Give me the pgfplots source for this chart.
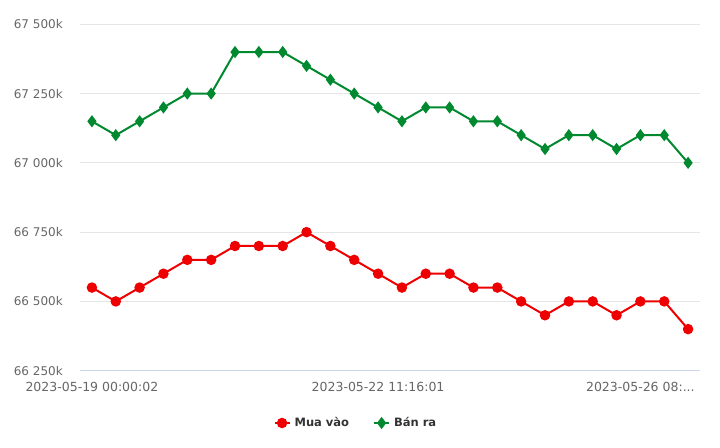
\documentclass[border=0pt]{standalone}
\usepackage{pgfplots}
\pgfplotsset{compat=1.18}
\usepackage{fontspec}
\setmainfont{DejaVu Sans}
\definecolor{cred}{RGB}{238,0,0}
\definecolor{cgreen}{RGB}{0,137,46}
\definecolor{gridc}{RGB}{230,230,230}
\definecolor{axc}{RGB}{204,214,235}
\definecolor{labc}{RGB}{102,102,102}
\definecolor{legc}{RGB}{51,51,51}
\newcommand{\dotsx}{.{}.{}.}
\begin{document}
\begin{tikzpicture}
\useasboundingbox (0,0) rectangle (720bp,448bp);
\begin{axis}[
  at={(80bp,77.3bp)}, anchor=south west,
  scale only axis, width=620bp, height=346.4bp,
  xmin=-0.5, xmax=25.5, ymin=66250, ymax=67500,
  scaled y ticks=false,
  axis line style={draw=none},
  major tick length=0pt,
  ytick={66250,66500,66750,67000,67250,67500},
  yticklabels={66 250k,66 500k,66 750k,67 000k,67 250k,67 500k},
  xtick={0,12,23},
  xticklabels={2023-05-19 00:00:02,2023-05-22 11:16:01,2023-05-26 08:\dotsx},
  ymajorgrids, major grid style={gridc, line width=1bp},
  yticklabel style={font=\fontsize{12bp}{14bp}\selectfont, text=labc, inner sep=0pt, anchor=east, xshift=-17bp},
  xticklabel style={font=\fontsize{12.5bp}{14bp}\selectfont, text=labc, inner sep=0pt, anchor=north, yshift=-11bp},
  legend style={at={(0.445,-0.151)}, anchor=center, draw=none, fill=none,
    font=\fontsize{11.5bp}{14bp}\selectfont\bfseries, text=legc,
    /tikz/every even column/.append style={column sep=22bp}},
  legend columns=2,
  legend image code/.code={\draw[mark repeat=2,mark phase=2,#1] plot coordinates {(0bp,0bp)(7.5bp,0bp)(15bp,0bp)};},
  clip=false,
]
\draw[axc, line width=1bp] (axis cs:-0.5,66250) -- (axis cs:25.5,66250);
\addplot[cred, line width=2bp, mark=*, mark size=4.2bp, mark options={solid, fill=cred, draw=none}] coordinates {
(0,66550)(1,66500)(2,66550)(3,66600)(4,66650)(5,66650)(6,66700)(7,66700)(8,66700)(9,66750)(10,66700)(11,66650)(12,66600)(13,66550)(14,66600)(15,66600)(16,66550)(17,66550)(18,66500)(19,66450)(20,66500)(21,66500)(22,66450)(23,66500)(24,66500)(25,66400)};
\addlegendentry{\hspace{2bp}Mua vào}
\addplot[cgreen, line width=2bp, mark=diamond*, mark size=4.5bp, mark options={solid, fill=cgreen, draw=none}] coordinates {
(0,67150)(1,67100)(2,67150)(3,67200)(4,67250)(5,67250)(6,67400)(7,67400)(8,67400)(9,67350)(10,67300)(11,67250)(12,67200)(13,67150)(14,67200)(15,67200)(16,67150)(17,67150)(18,67100)(19,67050)(20,67100)(21,67100)(22,67050)(23,67100)(24,67100)(25,67000)};
\addlegendentry{\hspace{2bp}Bán ra}
\end{axis}
\end{tikzpicture}
\end{document}
